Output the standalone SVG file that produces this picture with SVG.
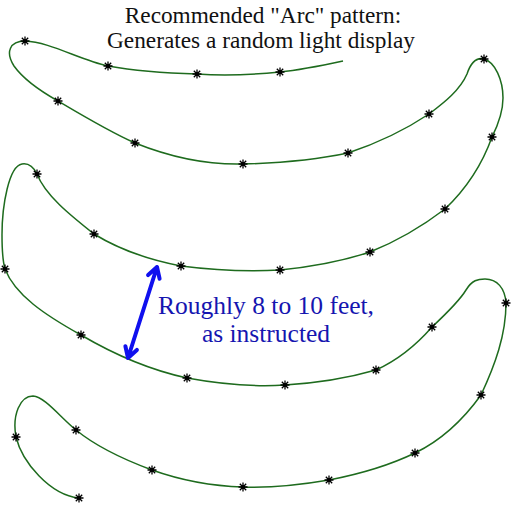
<svg xmlns="http://www.w3.org/2000/svg" xmlns:xlink="http://www.w3.org/1999/xlink" width="515" height="515" viewBox="0 0 515 515">
<style>
.t{font-family:"Liberation Serif","Times New Roman",serif;text-anchor:middle}
.title{font-size:23.3px;fill:#111}
.note{font-size:25.5px;fill:#1515b0}
.cord{fill:none;stroke:#1e6b1e;stroke-width:1.5}
.arr{fill:none;stroke:#1010ee;stroke-width:4;stroke-linecap:round;stroke-linejoin:round}
</style>
<defs>
<g id="s">
<path d="M-4.5,0H4.5M0,-4.5V4.5M-3.2,-3.2L3.2,3.2M-3.2,3.2L3.2,-3.2" stroke="#000" stroke-width="1.3" fill="none"/>
<circle r="2" fill="#000"/>
</g>
</defs>
<rect width="515" height="515" fill="#fff"/>
<g id="title">
<text class="t title" x="263" y="23">Recommended "Arc" pattern:</text>
<text class="t title" x="261" y="48">Generates a random light display</text>
</g>
<g id="connectors">
<path id="cord" class="cord" d="M343,61 C320,66 300,70 280,72 C250,75 225,76 197,74 C160,73 130,70 108,66 C80,60 50,42 25,41 C10,41 5,52 14,66 C24,80 42,92 58,101 C85,117 110,132 135,143 C170,157 205,165 243,164 C280,163 315,160 348,153 C378,143 405,130 429,114 C445,102 460,90 467,74 C471,62 476,57 484,59 C495,62 503,80 503,98 C503,112 498,125 492,137 C482,165 465,190 445,209 C420,228 395,242 370,252 C340,262 310,267 280,270 C245,272 212,270 181,266 C150,260 120,250 94,234 C70,215 45,195 37,174 C33,166 28,163 22,164 C9,166 2,205 2,235 C2,250 3,262 5,269 C15,295 45,315 81,335 C115,355 150,370 187,378 C220,384 255,387 285,385 C318,383 348,378 376,370 C398,360 418,343 432,327 C448,312 460,300 466,290 C472,280 478,279 485,279 C497,279 505,288 506,303 C506,335 495,365 481,395 C463,420 442,440 415,453 C388,466 360,474 329,480 C300,485 272,488 243,487 C210,486 180,480 152,470 C125,460 98,448 76,430 C60,417 45,397 33,396 C20,396 12,415 16,437 C22,462 50,495 79,498"/>
<path id="arrow" class="arr" d="M128,358 L157,267 M148.1,275.1 L157,267 L159.6,278.7 M125.4,346.3 L128,358 L136.9,349.9"/>
</g>
<g id="lights">
<use xlink:href="#s" x="280" y="72"/>
<use xlink:href="#s" x="197" y="74"/>
<use xlink:href="#s" x="108" y="66"/>
<use xlink:href="#s" x="25" y="41"/>
<use xlink:href="#s" x="58" y="101"/>
<use xlink:href="#s" x="135" y="143"/>
<use xlink:href="#s" x="243" y="164"/>
<use xlink:href="#s" x="348" y="153"/>
<use xlink:href="#s" x="429" y="114"/>
<use xlink:href="#s" x="484" y="59"/>
<use xlink:href="#s" x="492" y="137"/>
<use xlink:href="#s" x="445" y="209"/>
<use xlink:href="#s" x="370" y="252"/>
<use xlink:href="#s" x="280" y="270"/>
<use xlink:href="#s" x="181" y="266"/>
<use xlink:href="#s" x="94" y="234"/>
<use xlink:href="#s" x="37" y="174"/>
<use xlink:href="#s" x="5" y="269"/>
<use xlink:href="#s" x="81" y="335"/>
<use xlink:href="#s" x="187" y="378"/>
<use xlink:href="#s" x="285" y="385"/>
<use xlink:href="#s" x="376" y="370"/>
<use xlink:href="#s" x="432" y="327"/>
<use xlink:href="#s" x="506" y="303"/>
<use xlink:href="#s" x="481" y="395"/>
<use xlink:href="#s" x="415" y="453"/>
<use xlink:href="#s" x="329" y="480"/>
<use xlink:href="#s" x="243" y="487"/>
<use xlink:href="#s" x="152" y="470"/>
<use xlink:href="#s" x="76" y="430"/>
<use xlink:href="#s" x="16" y="437"/>
<use xlink:href="#s" x="79" y="498"/>
</g>
<g id="note">
<text class="t note" x="266" y="314">Roughly 8 to 10 feet,</text>
<text class="t note" x="266" y="342">as instructed</text>
</g>
</svg>
